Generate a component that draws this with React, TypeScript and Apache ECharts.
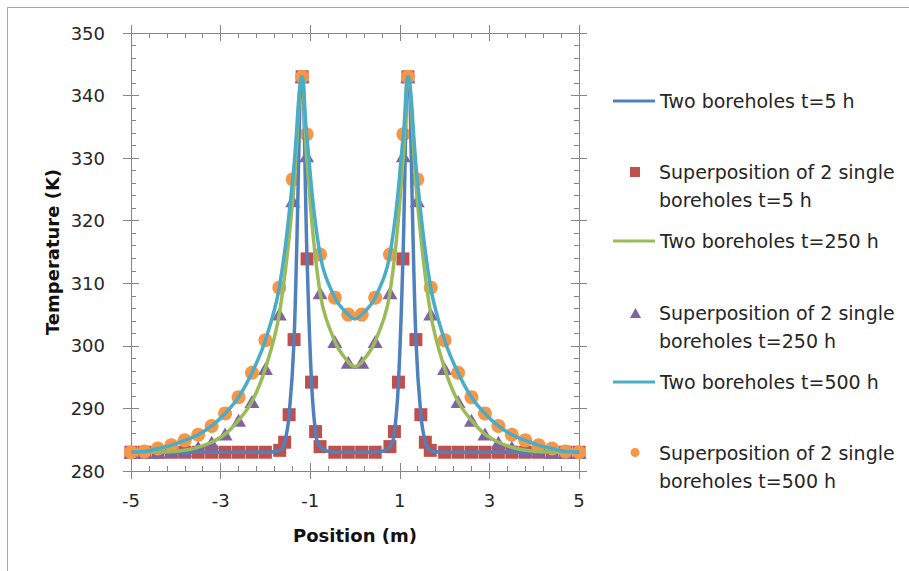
import React, { useEffect, useRef } from 'react';
import * as echarts from 'echarts';

// Series names (legend entries)
const seriesNames = [
  'Two boreholes t=5 h',
  'Superposition of 2 single\nboreholes t=5 h',
  'Two boreholes t=250 h',
  'Superposition of 2 single\nboreholes t=250 h',
  'Two boreholes t=500 h',
  'Superposition of 2 single\nboreholes t=500 h',
];

// Axis ticks
const xMajorTicks = [-5, -3, -1, 1, 3, 5];
const xMinorTicks = [-4.6, -4.2, -3.8, -3.4, -2.6, -2.2, -1.8, -1.4, -0.6, -0.2, 0.2, 0.6, 1.4, 1.8, 2.2, 2.6, 3.4, 3.8, 4.2, 4.6];
const yMajorTicks = [280, 290, 300, 310, 320, 330, 340, 350];
const yMinorTicks = [282, 284, 286, 288, 292, 294, 296, 298, 302, 304, 306, 308, 312, 314, 316, 318, 322, 324, 326, 328, 332, 334, 336, 338, 342, 344, 346, 348];

// Positions (m) of the superposition samples at t=5 h
const posFine = [-5, -4.7, -4.4, -4.1, -3.8, -3.5, -3.2, -2.9, -2.6, -2.3, -2.0, -1.68, -1.57, -1.47, -1.36, -1.18, -1.07, -0.97, -0.88, -0.78, -0.45, -0.15,
  0.15, 0.45, 0.78, 0.88, 0.97, 1.07, 1.18, 1.36, 1.47, 1.57, 1.68, 2.0, 2.3, 2.6, 2.9, 3.2, 3.5, 3.8, 4.1, 4.4, 4.7, 5];
// Temperatures (K) at t=5 h
const temp5h = [283.0, 283.0, 283.0, 283.0, 283.0, 283.0, 283.0, 283.0, 283.0, 283.0, 283.0, 283.3, 284.6, 289.0, 301.0, 343.0, 313.9, 294.2, 286.3, 283.9, 283.0, 283.0,
  283.0, 283.0, 283.9, 286.3, 294.2, 313.9, 343.0, 301.0, 289.0, 284.6, 283.3, 283.0, 283.0, 283.0, 283.0, 283.0, 283.0, 283.0, 283.0, 283.0, 283.0, 283.0];

// Positions (m) of the superposition samples at t=250 h and t=500 h
const posCoarse = [-5, -4.7, -4.4, -4.1, -3.8, -3.5, -3.2, -2.9, -2.6, -2.3, -2.0, -1.69, -1.39, -1.18, -1.08, -0.78, -0.45, -0.15,
  0.15, 0.45, 0.78, 1.08, 1.18, 1.39, 1.69, 2.0, 2.3, 2.6, 2.9, 3.2, 3.5, 3.8, 4.1, 4.4, 4.7, 5];
const temp250h = [283.0, 283.0, 283.0, 283.1, 283.3, 283.8, 284.6, 285.9, 288.1, 291.1, 296.4, 305.1, 323.2, 343.0, 330.4, 308.5, 300.7, 297.4,
  297.4, 300.7, 308.5, 330.4, 343.0, 323.2, 305.1, 296.4, 291.1, 288.1, 285.9, 284.6, 283.8, 283.3, 283.1, 283.0, 283.0, 283.0];
const temp500h = [283.0, 283.1, 283.6, 284.1, 284.9, 285.8, 287.2, 289.2, 291.8, 295.7, 300.9, 309.3, 326.6, 343.0, 333.8, 314.6, 307.7, 305.0,
  305.0, 307.7, 314.6, 333.8, 343.0, 326.6, 309.3, 300.9, 295.7, 291.8, 289.2, 287.2, 285.8, 284.9, 284.1, 283.6, 283.1, 283.0];

// Two-borehole solution curves
const posCurve = [-5, -4.7, -4.4, -4.1, -3.8, -3.5, -3.2, -2.9, -2.6, -2.3, -2.0, -1.69, -1.39, -1.18, -1.08, -0.78, -0.45, -0.15, 0,
  0.15, 0.45, 0.78, 1.08, 1.18, 1.39, 1.69, 2.0, 2.3, 2.6, 2.9, 3.2, 3.5, 3.8, 4.1, 4.4, 4.7, 5];
const curve250h = [283.0, 283.0, 283.0, 283.1, 283.3, 283.8, 284.6, 285.9, 288.1, 291.1, 296.4, 305.1, 323.2, 343.0, 330.4, 308.5, 300.7, 297.4, 296.7,
  297.4, 300.7, 308.5, 330.4, 343.0, 323.2, 305.1, 296.4, 291.1, 288.1, 285.9, 284.6, 283.8, 283.3, 283.1, 283.0, 283.0, 283.0];
const curve500h = [283.0, 283.1, 283.6, 284.1, 284.9, 285.8, 287.2, 289.2, 291.8, 295.7, 300.9, 309.3, 326.6, 343.0, 333.8, 314.6, 307.7, 305.0, 304.3,
  305.0, 307.7, 314.6, 333.8, 343.0, 326.6, 309.3, 300.9, 295.7, 291.8, 289.2, 287.2, 285.8, 284.9, 284.1, 283.6, 283.1, 283.0];

const COLORS = ['#4F81BD', '#C0504D', '#9BBB59', '#8064A2', '#4BACC6', '#F79646'];
const AXIS_GRAY = '#868686';
const FONT = 'DejaVu Sans';
const X_RANGE = [-5, 5];
const Y_RANGE = [280, 350];

// Legend marker icons: the visible shape sits in the top 10px so that it lines up
// with the first text line; the zero-area segment below sets the icon box size.
const ICON_SQUARE = 'path://M0,0L10,0L10,10L0,10Z M0,38L24,38';
const ICON_TRIANGLE = 'path://M5.5,0L11,10L0,10Z M0,38L24,38';
const ICON_CIRCLE = 'path://M0.5,5A4.5,4.5 0 1,0 9.5,5A4.5,4.5 0 1,0 0.5,5Z M0,38L24,38';

const zip = (xs: number[], ys: number[]) => xs.map((x, i) => [x, ys[i]]);

function tickAxis(position: string, range: number[], values: number[], length: number, inside: boolean, showLine = false) {
  return {
    type: 'value',
    position,
    min: range[0],
    max: range[1],
    axisLine: { show: showLine, onZero: false, lineStyle: { color: AXIS_GRAY, width: 1 } },
    axisTick: { show: true, inside, length, customValues: values, lineStyle: { color: AXIS_GRAY, width: 1 } },
    axisLabel: { show: false },
    splitLine: { show: false },
  };
}

const legendText = { fontFamily: FONT, fontSize: 19, lineHeight: 28, color: '#262626' };

function lineLegend(name: string, top: number) {
  return {
    orient: 'vertical',
    left: 613,
    top,
    padding: 0,
    itemWidth: 42,
    itemHeight: 3,
    selectedMode: false,
    symbolKeepAspect: false,
    textStyle: legendText,
    data: [{ name, icon: 'rect' }],
  };
}

function markerLegend(name: string, top: number, icon: string) {
  return {
    orient: 'vertical',
    left: 630,
    top,
    padding: 0,
    itemWidth: 24,
    itemHeight: 38,
    selectedMode: false,
    symbolKeepAspect: false,
    textStyle: legendText,
    data: [{ name, icon }],
  };
}

export default function App() {
  const ref = useRef<HTMLDivElement>(null);

  useEffect(() => {
    if (!ref.current) return;
    const chart = echarts.init(ref.current, null, { renderer: 'svg' });

    const lineSeries = (name: string, xs: number[], ys: number[], color: string) => ({
      type: 'line',
      name,
      data: zip(xs, ys),
      xAxisIndex: 0,
      yAxisIndex: 0,
      symbol: 'none',
      smooth: 0.4,
      lineStyle: { color, width: 3.5 },
      itemStyle: { color },
      clip: false,
    });
    const markerSeries = (name: string, xs: number[], ys: number[], color: string, symbol: string, size: number | number[]) => ({
      type: 'scatter',
      name,
      data: zip(xs, ys),
      xAxisIndex: 0,
      yAxisIndex: 0,
      symbol,
      symbolSize: size,
      itemStyle: { color, opacity: 1 },
      clip: false,
    });

    const option = {
      animation: false,
      backgroundColor: '#ffffff',
      textStyle: { fontFamily: FONT },
      grid: { left: 131, right: 330, top: 33, bottom: 100 },
      graphic: [
        {
          type: 'rect',
          silent: true,
          z: -10,
          shape: { x: 7.5, y: 7.5, width: 1200, height: 1200 },
          style: { fill: 'none', stroke: '#a6a6a6', lineWidth: 1 },
        },
      ],
      legend: [
        lineLegend(seriesNames[0], 87),
        markerLegend(seriesNames[1], 158, ICON_SQUARE),
        lineLegend(seriesNames[2], 227),
        markerLegend(seriesNames[3], 299, ICON_TRIANGLE),
        lineLegend(seriesNames[4], 368),
        markerLegend(seriesNames[5], 439, ICON_CIRCLE),
      ],
      xAxis: [
        {
          ...tickAxis('bottom', X_RANGE, xMajorTicks, 8, false, true),
          name: 'Position (m)',
          nameLocation: 'middle',
          nameGap: 55,
          nameTextStyle: { fontFamily: FONT, fontSize: 18, fontWeight: 'bold', color: '#111' },
          axisLabel: { show: true, customValues: xMajorTicks, margin: 20, fontFamily: FONT, fontSize: 18, color: '#262626' },
        },
        tickAxis('bottom', X_RANGE, xMajorTicks, 8, true),
        tickAxis('bottom', X_RANGE, xMinorTicks, 5, true),
        tickAxis('top', X_RANGE, xMajorTicks, 8, false, true),
        tickAxis('top', X_RANGE, xMajorTicks, 8, true),
        tickAxis('top', X_RANGE, xMinorTicks, 5, true),
      ],
      yAxis: [
        {
          ...tickAxis('left', Y_RANGE, yMajorTicks, 8, false, true),
          name: 'Temperature (K)',
          nameLocation: 'middle',
          nameGap: 70,
          nameTextStyle: { fontFamily: FONT, fontSize: 18, fontWeight: 'bold', color: '#111' },
          axisLabel: { show: true, customValues: yMajorTicks, margin: 26, fontFamily: FONT, fontSize: 18, color: '#262626' },
        },
        tickAxis('left', Y_RANGE, yMajorTicks, 8, true),
        tickAxis('left', Y_RANGE, yMinorTicks, 5, true),
        tickAxis('right', Y_RANGE, yMajorTicks, 8, false, true),
        tickAxis('right', Y_RANGE, yMajorTicks, 8, true),
        tickAxis('right', Y_RANGE, yMinorTicks, 5, true),
      ],
      series: [
        lineSeries(seriesNames[0], posFine, temp5h, COLORS[0]),
        markerSeries(seriesNames[1], posFine, temp5h, COLORS[1], 'rect', 13),
        lineSeries(seriesNames[2], posCurve, curve250h, COLORS[2]),
        markerSeries(seriesNames[3], posCoarse, temp250h, COLORS[3], 'triangle', [15, 13]),
        lineSeries(seriesNames[4], posCurve, curve500h, COLORS[4]),
        markerSeries(seriesNames[5], posCoarse, temp500h, COLORS[5], 'circle', 14),
      ],
    };

    chart.setOption(option as any);
    return () => chart.dispose();
  }, []);

  return (
    <div
      ref={ref}
      style={{ position: 'fixed', left: 0, top: 0, width: 909, height: 571, background: '#fff' }}
    />
  );
}
